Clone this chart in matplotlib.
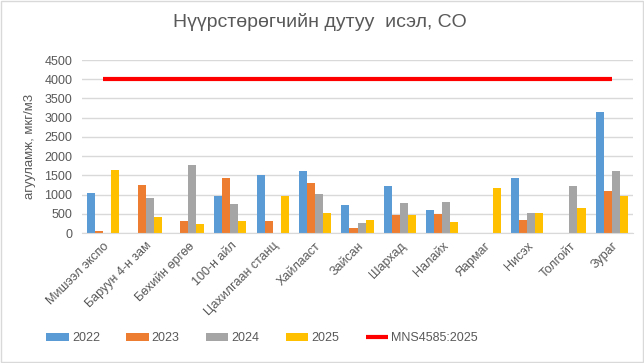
import matplotlib.pyplot as plt
import numpy as np
from matplotlib.patches import Rectangle

plt.rcParams['font.family'] = ['Liberation Sans', 'DejaVu Sans']

# station names and yearly CO concentrations (0 = no data)
stations = ["Мишээл экспо", "Баруун 4-н зам", "Бөхийн өргөө", "100-н айл",
            "Цахилгаан станц", "Хайлааст", "Зайсан", "Шархад", "Налайх",
            "Яармаг", "Нисэх", "Толгойт", "Зураг"]
co_2022 = [1050, 0, 0, 950, 1520, 1620, 730, 1230, 600, 0, 1440, 0, 3150]
co_2023 = [50, 1260, 320, 1440, 300, 1310, 130, 470, 500, 0, 340, 0, 1080]
co_2024 = [0, 920, 1780, 760, 0, 1020, 260, 780, 810, 0, 530, 1230, 1600]
co_2025 = [1650, 420, 240, 320, 950, 530, 340, 470, 290, 1180, 530, 660, 950]
standard = 4000
years = ["2022", "2023", "2024", "2025"]
colors = ["#5b9bd5", "#ed7d31", "#a5a5a5", "#ffc000"]

fig = plt.figure(figsize=(6.44, 3.63), dpi=100)
ax = fig.add_axes([82 / 644, 1 - 233 / 363, 551 / 644, 173 / 363])

x = np.arange(len(stations))
w = 0.19
series = [co_2022, co_2023, co_2024, co_2025]
for i, vals in enumerate(series):
    ax.bar(x + (i - 1.5) * w, vals, width=w, color=colors[i], label=years[i])

ax.plot(x, [standard] * len(x), color="#ff0000", lw=3, solid_capstyle="butt",
        label="MNS4585:2025")

ax.set_xlim(-0.5, len(stations) - 0.5)
ax.set_ylim(0, 4500)
ax.set_yticks(range(0, 4501, 500))
ax.grid(axis="y", color="#d9d9d9", lw=1)
ax.set_axisbelow(True)
for s in ["top", "right", "left"]:
    ax.spines[s].set_visible(False)
ax.spines["bottom"].set_color("#d9d9d9")
ax.tick_params(axis="y", length=0, labelsize=9, labelcolor="#595959", pad=7)
ax.tick_params(axis="x", length=0, labelsize=9, labelcolor="#595959", pad=5)
ax.set_xticks(x)
ax.set_xticklabels(stations, rotation=45, ha="right", rotation_mode="anchor")
ax.set_ylabel("агууламж, мкг/м3", fontsize=9.5, color="#595959", labelpad=6)

fig.text(0.497, 0.94, "Нүүрстөрөгчийн дутуу  исэл, CO", ha="center", va="center",
         fontsize=14, color="#595959")

handles, labels = ax.get_legend_handles_labels()
order = [1, 2, 3, 4, 0]
leg = fig.legend([handles[k] for k in order], [labels[k] for k in order],
                 loc="center", bbox_to_anchor=(262 / 644, 1 - 338 / 363), ncol=5,
                 frameon=False, fontsize=9, labelcolor="#595959",
                 handlelength=1.8, handleheight=0.6, columnspacing=2.1,
                 handletextpad=0.25)

fig.patches.append(Rectangle((0.001, 0.002), 0.997, 0.996, transform=fig.transFigure,
                             fill=False, edgecolor="#d9d9d9", lw=1))

fig.savefig("out.png", dpi=100)
